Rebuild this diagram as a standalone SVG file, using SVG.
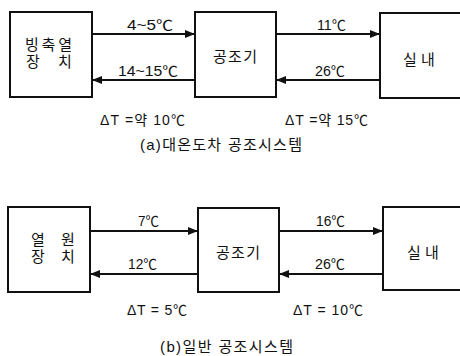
<svg xmlns="http://www.w3.org/2000/svg" width="460" height="356" viewBox="0 0 460 356">
<style>
.box{fill:#fff;stroke:#111;stroke-width:2}
.ln{stroke:#111;stroke-width:2;fill:none}
text{font-family:"Liberation Sans","Noto Sans CJK KR",sans-serif;font-size:14px;fill:#111}
.k{font-size:15px}
</style>
<defs>
<marker id="ah" viewBox="0 0 10 10" refX="10" refY="5" markerWidth="5" markerHeight="5" orient="auto" markerUnits="strokeWidth">
<path d="M0,1 L10,5 L0,9 z" fill="#111"/>
</marker>
</defs>
<g id="connectors">
<line class="ln" x1="92" y1="34" x2="195" y2="34" marker-end="url(#ah)"/>
<line class="ln" x1="195" y1="80" x2="92" y2="80" marker-end="url(#ah)"/>
<line class="ln" x1="276" y1="34" x2="380" y2="34" marker-end="url(#ah)"/>
<line class="ln" x1="380" y1="80" x2="276" y2="80" marker-end="url(#ah)"/>
<line class="ln" x1="90" y1="231" x2="198" y2="231" marker-end="url(#ah)"/>
<line class="ln" x1="198" y1="274" x2="90" y2="274" marker-end="url(#ah)"/>
<line class="ln" x1="279" y1="231" x2="383" y2="231" marker-end="url(#ah)"/>
<line class="ln" x1="383" y1="274" x2="279" y2="274" marker-end="url(#ah)"/>
<text x="127" y="30" textLength="46" lengthAdjust="spacingAndGlyphs">4~5℃</text>
<text x="118" y="76" textLength="60" lengthAdjust="spacingAndGlyphs">14~15℃</text>
<text x="317" y="30" textLength="29" lengthAdjust="spacingAndGlyphs">11℃</text>
<text x="315" y="76" textLength="30" lengthAdjust="spacingAndGlyphs">26℃</text>
<text x="138" y="226" textLength="21" lengthAdjust="spacingAndGlyphs">7℃</text>
<text x="128" y="269" textLength="29" lengthAdjust="spacingAndGlyphs">12℃</text>
<text x="316" y="226" textLength="29" lengthAdjust="spacingAndGlyphs">16℃</text>
<text x="315" y="269" textLength="30" lengthAdjust="spacingAndGlyphs">26℃</text>
</g>
<g id="a-source">
<rect class="box" x="10" y="12" width="82" height="85"/>
<text class="k" x="25" y="50" textLength="47" lengthAdjust="spacing">빙축열</text>
<text class="k" x="26" y="67">장</text><text class="k" x="58" y="67">치</text>
</g>
<g id="a-ahu">
<rect class="box" x="195" y="12" width="81" height="85"/>
<text class="k" x="213" y="62" textLength="44" lengthAdjust="spacing">공조기</text>
</g>
<g id="a-room">
<rect class="box" x="380" y="13" width="84" height="85"/>
<text class="k" x="403" y="65">실</text><text class="k" x="421" y="65">내</text>
</g>
<g id="b-source">
<rect class="box" x="8" y="207" width="82" height="85"/>
<text class="k" x="31" y="245">열</text><text class="k" x="61" y="245">원</text>
<text class="k" x="31" y="262">장</text><text class="k" x="61" y="262">치</text>
</g>
<g id="b-ahu">
<rect class="box" x="198" y="208" width="81" height="84"/>
<text class="k" x="216" y="258" textLength="44" lengthAdjust="spacing">공조기</text>
</g>
<g id="b-room">
<rect class="box" x="383" y="207" width="81" height="83"/>
<text class="k" x="407" y="258">실</text><text class="k" x="425" y="258">내</text>
</g>
<g id="labels">
<text x="100" y="125" textLength="85" lengthAdjust="spacing">ΔT =약 10℃</text>
<text x="285" y="125" textLength="83" lengthAdjust="spacing">ΔT =약 15℃</text>
<text x="127" y="315" textLength="60" lengthAdjust="spacing">ΔT = 5℃</text>
<text x="293" y="315" textLength="70" lengthAdjust="spacing">ΔT = 10℃</text>
<text class="k" x="140" y="150" textLength="162" lengthAdjust="spacing">(a)대온도차 공조시스템</text>
<text class="k" x="160" y="352" textLength="133" lengthAdjust="spacing">(b)일반 공조시스템</text>
</g>
</svg>
